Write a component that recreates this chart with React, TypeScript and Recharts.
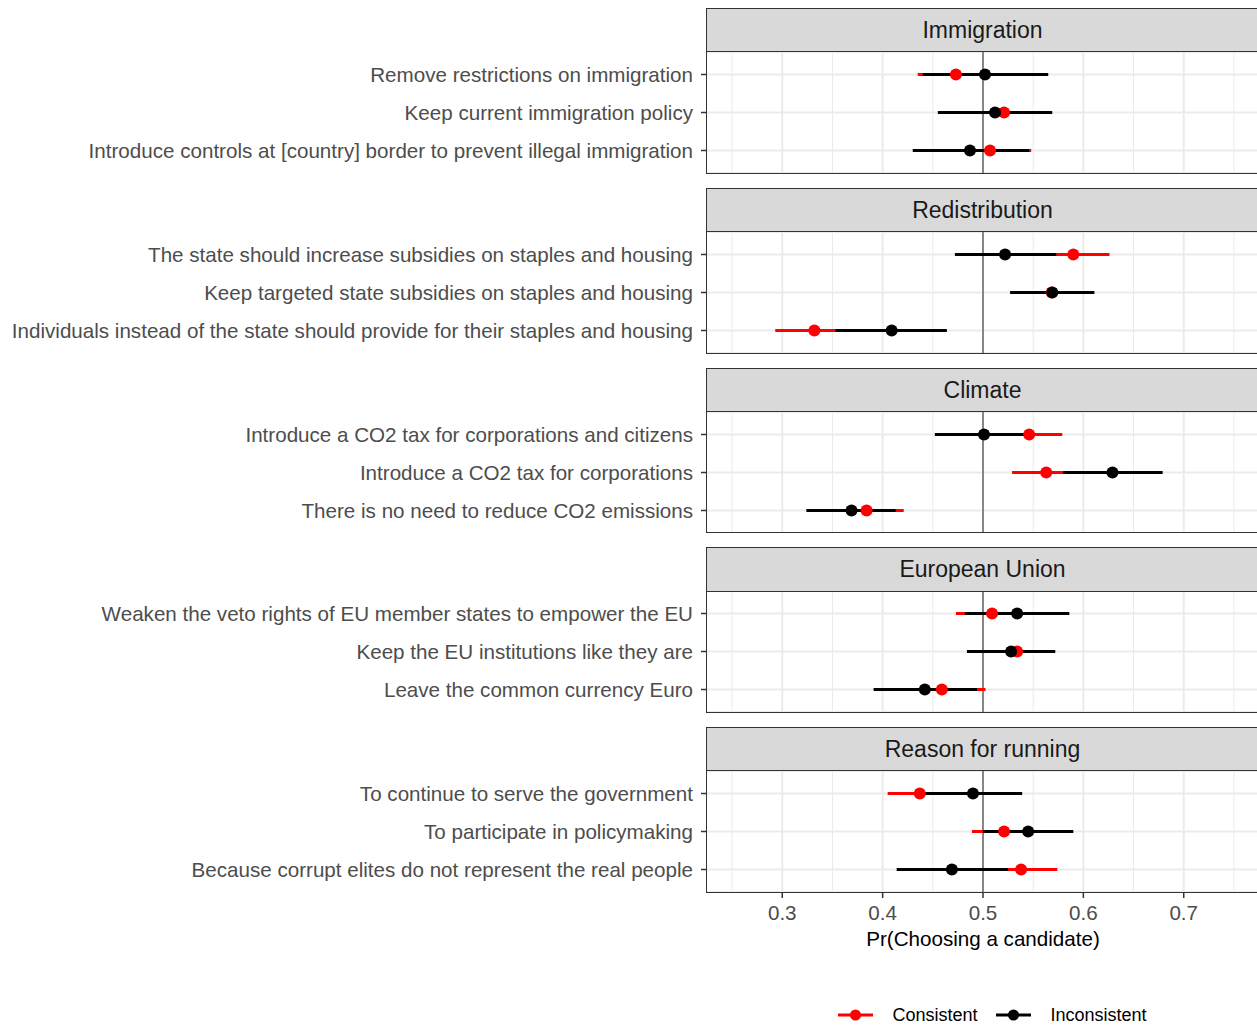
import React from 'react';
import {
  ComposedChart,
  Line,
  XAxis,
  YAxis,
  CartesianGrid,
  ReferenceLine,
  ErrorBar,
  Legend,
} from 'recharts';

// Facets, top to bottom
const facets = ['Immigration', 'Redistribution', 'Climate', 'European Union', 'Reason for running'];

// Attribute levels, in display order (three per facet)
const statements = [
  'Remove restrictions on immigration',
  'Keep current immigration policy',
  'Introduce controls at [country] border to prevent illegal immigration',
  'The state should increase subsidies on staples and housing',
  'Keep targeted state subsidies on staples and housing',
  'Individuals instead of the state should provide for their staples and housing',
  'Introduce a CO2 tax for corporations and citizens',
  'Introduce a CO2 tax for corporations',
  'There is no need to reduce CO2 emissions',
  'Weaken the veto rights of EU member states to empower the EU',
  'Keep the EU institutions like they are',
  'Leave the common currency Euro',
  'To continue to serve the government',
  'To participate in policymaking',
  'Because corrupt elites do not represent the real people',
];

const statementFacet = [
  'Immigration', 'Immigration', 'Immigration',
  'Redistribution', 'Redistribution', 'Redistribution',
  'Climate', 'Climate', 'Climate',
  'European Union', 'European Union', 'European Union',
  'Reason for running', 'Reason for running', 'Reason for running',
];

// Marginal means with 95% intervals
const consistentEst = [0.473, 0.521, 0.507, 0.590, 0.5685, 0.332, 0.546, 0.563, 0.384, 0.509, 0.534, 0.459, 0.437, 0.521, 0.538];
const consistentLow = [0.435, 0.476, 0.465, 0.554, 0.528, 0.293, 0.513, 0.529, 0.347, 0.473, 0.497, 0.416, 0.405, 0.489, 0.503];
const consistentHigh = [0.511, 0.566, 0.548, 0.626, 0.610, 0.371, 0.579, 0.597, 0.421, 0.545, 0.571, 0.5025, 0.470, 0.554, 0.574];

const inconsistentEst = [0.502, 0.512, 0.487, 0.522, 0.569, 0.409, 0.501, 0.629, 0.369, 0.534, 0.528, 0.442, 0.490, 0.545, 0.469];
const inconsistentLow = [0.440, 0.455, 0.430, 0.472, 0.527, 0.353, 0.452, 0.580, 0.324, 0.482, 0.484, 0.391, 0.442, 0.500, 0.414];
const inconsistentHigh = [0.565, 0.569, 0.546, 0.573, 0.611, 0.464, 0.550, 0.679, 0.413, 0.586, 0.572, 0.494, 0.539, 0.590, 0.525];

const seriesNames = ['Consistent', 'Inconsistent'];
const seriesColors = ['#ff0000', '#000000'];

const majorTicks = [0.3, 0.4, 0.5, 0.6, 0.7];
const minorTicks = [0.25, 0.35, 0.45, 0.55, 0.65, 0.75];
const xDomain: [number, number] = [0.225, 0.775];
const xTitle = 'Pr(Choosing a candidate)';

const FONT = '"Liberation Sans", Arial, Helvetica, sans-serif';
const PANEL_LEFT = 707;
const PLOT_W = 552;
const CHART_W = PANEL_LEFT + PLOT_W;
const STRIP_H = 44;
const PANEL_H = 121;
const ROW_PAD = 22.5;
const FACET_STEP = 179.8;
const FIRST_TOP = 8;
const LAST_EXTRA = 141; // x axis + legend below the last panel
const LEGEND_H = 36;
const LABEL_SIZE = 20.6;

type Row = {
  statement: string;
  cons: number;
  consErr: [number, number];
  incons: number;
  inconsErr: [number, number];
};

function rowsFor(facet: string): Row[] {
  const out: Row[] = [];
  statements.forEach((s, i) => {
    if (statementFacet[i] !== facet) return;
    out.push({
      statement: s,
      cons: consistentEst[i],
      consErr: [consistentEst[i] - consistentLow[i], consistentHigh[i] - consistentEst[i]],
      incons: inconsistentEst[i],
      inconsErr: [inconsistentEst[i] - inconsistentLow[i], inconsistentHigh[i] - inconsistentEst[i]],
    });
  });
  return out;
}

function LegendContent() {
  return (
    <div
      style={{
        display: 'flex',
        justifyContent: 'center',
        alignItems: 'center',
        height: LEGEND_H,
        fontFamily: FONT,
        fontSize: 18,
        color: '#000',
      }}
    >
      {seriesNames.map((name, i) => (
        <div key={name} style={{ display: 'flex', alignItems: 'center', marginRight: i === 0 ? 19 : 0 }}>
          <svg width={35} height={20} style={{ display: 'block' }}>
            <line x1={0} x2={35} y1={10} y2={10} stroke={seriesColors[i]} strokeWidth={3} />
            <circle cx={17.5} cy={10} r={5.5} fill={seriesColors[i]} />
          </svg>
          <span style={{ marginLeft: 19 }}>{name}</span>
        </div>
      ))}
    </div>
  );
}

function Facet({ index }: { index: number }) {
  const facet = facets[index];
  const data = rowsFor(facet);
  const isLast = index === facets.length - 1;
  const top = FIRST_TOP + FACET_STEP * index;
  const chartH = isLast ? PANEL_H + LAST_EXTRA : PANEL_H;

  return (
    <>
      <div
        style={{
          position: 'absolute',
          left: PANEL_LEFT - 1,
          top,
          width: PLOT_W + 1,
          height: STRIP_H,
          boxSizing: 'border-box',
          background: '#d9d9d9',
          border: '1.6px solid #333333',
          borderBottom: 'none',
          display: 'flex',
          alignItems: 'center',
          justifyContent: 'center',
          fontSize: 23,
          color: '#1a1a1a',
        }}
      >
        {facet}
      </div>
      <div style={{ position: 'absolute', left: 0, top: top + STRIP_H }}>
        <ComposedChart
          layout="vertical"
          width={CHART_W}
          height={chartH}
          data={data}
          margin={{ top: 0, right: 0, bottom: 0, left: 0 }}
        >
          <CartesianGrid vertical={false} stroke="#ebebeb" strokeWidth={2} />
          {minorTicks.map((v) => (
            <ReferenceLine key={'minor' + v} x={v} stroke="#ebebeb" strokeWidth={1} />
          ))}
          {majorTicks.map((v) => (
            <ReferenceLine key={'major' + v} x={v} stroke="#ebebeb" strokeWidth={2} />
          ))}
          <ReferenceLine x={0.5} stroke="#333333" strokeWidth={1.1} />
          <XAxis
            type="number"
            domain={xDomain}
            allowDataOverflow
            ticks={majorTicks}
            hide={!isLast}
            height={isLast ? LAST_EXTRA - LEGEND_H : 0}
            axisLine={false}
            tickSize={6}
            tickMargin={7}
            tickLine={{ stroke: '#333333', strokeWidth: 1.5 }}
            tick={{ fontSize: LABEL_SIZE, fill: '#4d4d4d', fontFamily: FONT }}
            label={
              isLast
                ? { value: xTitle, position: 'insideBottom', offset: 51, fill: '#000000', fontSize: LABEL_SIZE, fontFamily: FONT }
                : undefined
            }
          />
          <YAxis
            type="category"
            dataKey="statement"
            width={PANEL_LEFT}
            interval={0}
            padding={{ top: ROW_PAD, bottom: ROW_PAD }}
            axisLine={false}
            tickSize={6}
            tickMargin={8}
            tickLine={{ stroke: '#333333', strokeWidth: 1.5 }}
            tick={{ fontSize: LABEL_SIZE, fill: '#4d4d4d', fontFamily: FONT }}
          />
          {/* interval segments first, then the point estimates on top */}
          <Line dataKey="cons" stroke="none" dot={false} activeDot={false} legendType="none" isAnimationActive={false}>
            <ErrorBar dataKey="consErr" direction="x" width={0} stroke={seriesColors[0]} strokeWidth={3} isAnimationActive={false} />
          </Line>
          <Line dataKey="incons" stroke="none" dot={false} activeDot={false} legendType="none" isAnimationActive={false}>
            <ErrorBar dataKey="inconsErr" direction="x" width={0} stroke={seriesColors[1]} strokeWidth={3} isAnimationActive={false} />
          </Line>
          <Line
            dataKey="cons"
            name={seriesNames[0]}
            stroke="none"
            dot={{ r: 6, fill: seriesColors[0], stroke: 'none' }}
            activeDot={false}
            isAnimationActive={false}
          />
          <Line
            dataKey="incons"
            name={seriesNames[1]}
            stroke="none"
            dot={{ r: 6, fill: seriesColors[1], stroke: 'none' }}
            activeDot={false}
            isAnimationActive={false}
          />
          {isLast && (
            <Legend
              verticalAlign="bottom"
              height={LEGEND_H}
              wrapperStyle={{ left: PANEL_LEFT, width: 571 }}
              content={() => <LegendContent />}
            />
          )}
        </ComposedChart>
      </div>
      <div
        style={{
          position: 'absolute',
          left: PANEL_LEFT - 1,
          top: top + STRIP_H - 0.8,
          width: PLOT_W + 1,
          height: PANEL_H + 1.6,
          boxSizing: 'border-box',
          border: '1.6px solid #333333',
          pointerEvents: 'none',
        }}
      />
    </>
  );
}

export default function App() {
  return (
    <div
      style={{
        position: 'absolute',
        left: 0,
        top: 0,
        width: 1257,
        height: 1029,
        overflow: 'hidden',
        background: '#ffffff',
        fontFamily: FONT,
      }}
    >
      {facets.map((f, i) => (
        <Facet key={f} index={i} />
      ))}
    </div>
  );
}
